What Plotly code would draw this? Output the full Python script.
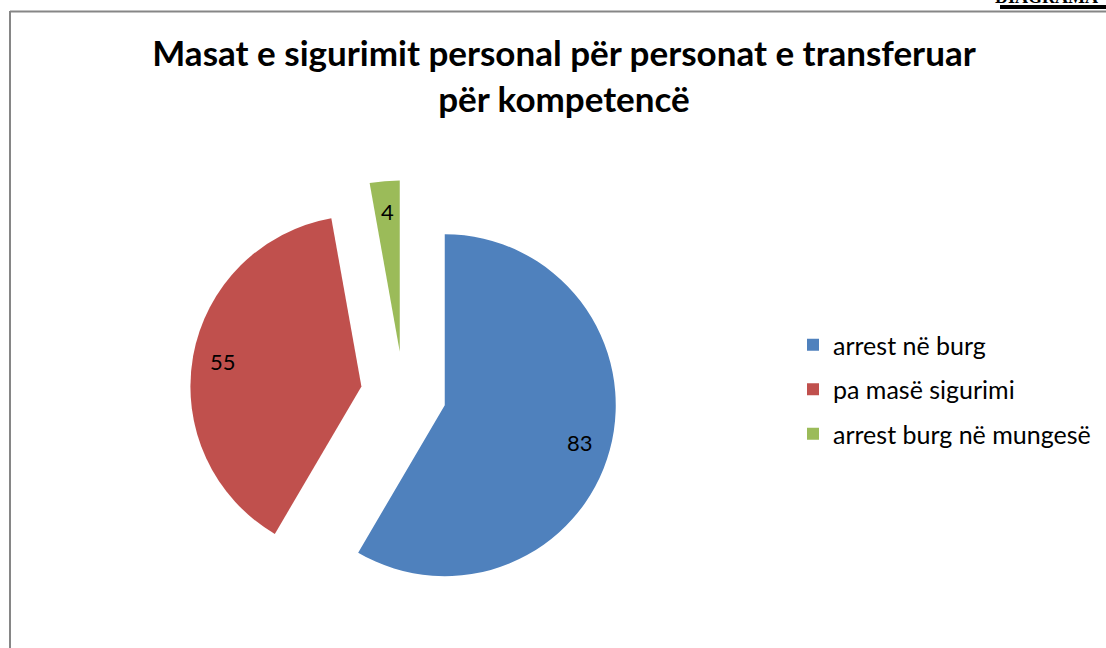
import numpy as np
import plotly.graph_objects as go

categories = ["arrest në burg", "pa masë sigurimi", "arrest burg në mungesë"]
values = [83, 55, 4]
colors = ["#4F81BD", "#C0504D", "#9BBB59"]
title_text = "Masat e sigurimit personal për personat e transferuar<br>për kompetencë"

W, H = 1106, 648
PULL = 0.25
# pie box in pixels (left, right, top, bottom)
BX0, BX1, BY0, BY1 = 189.75, 617.25, 180.25, 607.75

fig = go.Figure()
fig.add_trace(go.Pie(
    labels=categories, values=values, sort=False, direction="clockwise", rotation=0,
    marker=dict(colors=colors, line=dict(width=0)),
    pull=[PULL] * len(values),
    textinfo="none",
    domain=dict(x=[BX0 / W, BX1 / W], y=[1 - BY1 / H, 1 - BY0 / H]),
    showlegend=False, hoverinfo="label+value",
))
for i, (c, col) in enumerate(zip(categories, colors)):
    fig.add_trace(go.Scatter(
        x=[None], y=[None], mode="markers", name=c, legendgroup=f"g{i}",
        marker=dict(symbol="square", size=12, color=col), showlegend=True,
    ))

# value labels placed from the data (slice mid-angles), same geometry as the pie
cx, cy = (BX0 + BX1) / 2, (BY0 + BY1) / 2
r = min(BX1 - BX0, BY1 - BY0) / (2 + 2 * PULL)
vals = np.array(values, dtype=float)
ends = np.cumsum(vals) / vals.sum() * 2 * np.pi
mids = ends - vals / vals.sum() * np.pi
annotations = []
for v, a in zip(values, mids):
    dist = r * (PULL + 0.82)
    px, py = cx + dist * np.sin(a), cy - dist * np.cos(a)
    annotations.append(dict(text=str(v), xref="paper", yref="paper", x=px / W, y=1 - py / H,
                            xanchor="center", yanchor="middle", showarrow=False,
                            font=dict(family="Lato", size=22, color="black")))

annotations.append(dict(text="DIAGRAMA", xref="paper", yref="paper", x=1100 / W, y=1 - 9 / H,
                        xanchor="right", yanchor="bottom", showarrow=False,
                        font=dict(family="Liberation Serif", size=18, color="black", weight="bold")))

fig.update_layout(
    width=W, height=H, margin=dict(l=0, r=0, t=0, b=0),
    paper_bgcolor="white", plot_bgcolor="white",
    xaxis=dict(visible=False), yaxis=dict(visible=False),
    title=dict(text=title_text, x=564 / W, xanchor="center", y=1 - 66 / H, yanchor="top",
               font=dict(family="Lato", size=35, color="black", weight="bold")),
    legend=dict(x=793 / W, y=1 - 322 / H, xanchor="left", yanchor="top",
                font=dict(family="Lato", size=25, color="black"),
                tracegroupgap=9, itemwidth=30, bgcolor="rgba(0,0,0,0)"),
    shapes=[
        dict(type="line", xref="paper", yref="paper", x0=10 / W, x1=10 / W, y0=0, y1=1 - 11 / H,
             line=dict(color="#868686", width=2)),
        dict(type="line", xref="paper", yref="paper", x0=10 / W, x1=1, y0=1 - 11.5 / H, y1=1 - 11.5 / H,
             line=dict(color="#868686", width=2)),
        dict(type="line", xref="paper", yref="paper", x0=1000 / W, x1=1, y0=1 - 7 / H, y1=1 - 7 / H,
             line=dict(color="black", width=4)),
    ],
    annotations=annotations,
)
fig.write_html("out.html", config={"displayModeBar": False},
               post_script="document.body.style.margin='0px';")
